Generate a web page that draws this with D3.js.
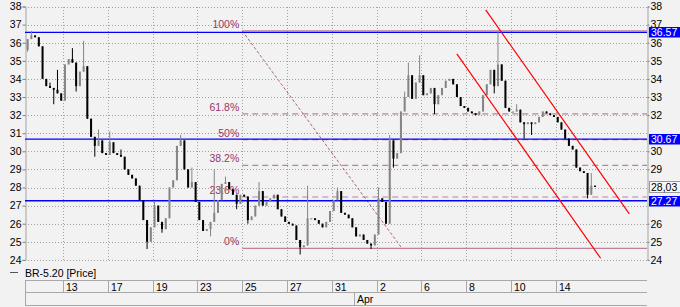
<!DOCTYPE html>
<html>
<head>
<meta charset="utf-8">
<script src="https://cdn.jsdelivr.net/npm/d3@7"></script>
<style>
  html, body { margin: 0; padding: 0; background: #f2f2f2; }
  svg { display: block; font-family: "Liberation Sans", Arial, sans-serif; }
</style>
</head>
<body>
<div id="chart"></div>
<script>
var seriesName = "BR-5.20 [Price]";

var tradingDays = [
  "2020-03-11", "2020-03-12", "2020-03-13", "2020-03-16", "2020-03-17",
  "2020-03-18", "2020-03-19", "2020-03-20", "2020-03-23", "2020-03-24",
  "2020-03-25", "2020-03-26", "2020-03-27", "2020-03-30", "2020-03-31",
  "2020-04-01", "2020-04-02", "2020-04-03", "2020-04-06", "2020-04-07",
  "2020-04-08", "2020-04-09", "2020-04-10", "2020-04-13", "2020-04-14",
  "2020-04-15"
];

var tickDates = [
  "2020-03-13", "2020-03-17", "2020-03-19", "2020-03-23", "2020-03-25",
  "2020-03-27", "2020-03-31", "2020-04-02", "2020-04-06", "2020-04-08",
  "2020-04-10", "2020-04-14"
];

var priceTicks = [24, 25, 26, 27, 28, 29, 30, 31, 32, 33, 34, 35, 36, 37, 38];

// six bars per trading day, the first day starts at its third bar
var barsPerDay = 6;
var firstSlot = 2;
var firstOpen = 35.6;

var closes = [
  36.2, 36.4, 36.3, 35.8,                 // 11 Mar
  34.0, 33.6, 33.5, 33.4, 33.2, 32.8,     // 12
  34.8, 35.1, 34.9, 33.6, 34.4, 34.7,     // 13
  31.8, 30.8, 30.3, 30.6, 29.9, 29.8,     // 16
  30.5, 29.9, 29.8, 29.7, 29.0, 28.7,     // 17
  28.5, 28.1, 27.3, 26.2, 25.0, 25.8,     // 18
  27.0, 26.1, 25.7, 26.3, 28.0, 28.4,     // 19
  30.3, 30.6, 29.0, 28.0, 28.3, 27.2,     // 20
  26.2, 25.6, 25.7, 26.1, 26.6, 27.3,     // 23
  28.2, 28.3, 27.9, 27.6, 27.1, 27.6,     // 24
  27.5, 26.2, 26.4, 27.0, 27.8, 27.0,     // 25
  27.2, 27.4, 27.6, 26.8, 26.4, 26.1,     // 26
  26.0, 25.9, 25.1, 24.7, 24.8, 26.3,     // 27
  26.3, 26.2, 26.0, 25.8, 26.1, 26.7,     // 30
  27.3, 27.8, 26.6, 26.5, 26.3, 25.8,     // 31
  25.3, 25.4, 25.1, 24.9, 24.8, 25.4,     // 1 Apr
  27.4, 27.2, 26.0, 30.6, 29.6, 29.9,     // 2
  32.2, 33.0, 34.2, 32.9, 33.8, 34.2,     // 3
  33.1, 33.2, 33.5, 32.6, 33.1, 33.5,     // 6
  33.9, 34.0, 33.7, 33.0, 32.5, 32.4,     // 7
  32.2, 32.1, 32.0, 32.2, 33.1, 33.7,     // 8
  34.5, 33.6, 34.8, 33.9, 32.4, 32.2,     // 9
  32.2, 32.3, 31.6, 31.5, 31.6, 31.5,     // 10
  31.6, 31.9, 32.2, 32.1, 32.0, 31.9,     // 13
  31.6, 31.2, 30.7, 30.3, 30.1, 29.1,     // 14
  28.9, 28.8, 27.6, 28.1, 28.03           // 15
];

// [bar index, price] for wicks that stick out of the bodies
var barHighs = [
  [1, 36.65], [6, 33.8], [8, 34.5], [12, 35.7], [15, 36.1], [19, 31.2],
  [22, 31.1], [25, 30.1], [34, 27.2], [41, 30.9], [44, 29.1], [50, 29.0],
  [53, 28.6], [62, 28.3], [75, 28.1], [83, 28.0], [94, 28.0], [97, 30.9],
  [101, 33.3], [102, 34.9], [105, 35.3], [126, 36.65], [131, 32.6], [151, 28.8]
];
var barLows = [
  [0, 35.5], [7, 32.6], [13, 33.3], [18, 29.7], [32, 24.6], [36, 25.5],
  [49, 25.3], [56, 26.8], [59, 26.0], [73, 24.3], [92, 24.6], [98, 29.1],
  [109, 32.05], [125, 33.2], [133, 30.7], [135, 30.9], [150, 27.4]
];

var levelLines = [36.57, 30.67, 27.27];
var lastPrice = 28.03;

// fibonacci tool: [trading day position, price]
var fibHigh = [10.0, 36.65];
var fibLow = [17.13, 24.64];
var fibRatios = [0, 0.236, 0.382, 0.5, 0.618, 1];
var fibLabels = ["0%", "23.6%", "38.2%", "50%", "61.8%", "100%"];

// descending channel, two red trend lines
var channelLines = [
  [[20.87, 37.81], [27.28, 26.54]],
  [[19.58, 35.38], [26.0, 24.09]]
];

(function() {
  'use strict';

  var width = 680;
  var height = 307;
  var left = 25;
  var right = 647;
  var top = 6.5;
  var bottom = 259.9;
  var gridColor = "#a3a3a3";
  var fibColor = "#c0809a";
  var fibText = "#9a3566";

  var parse = d3.timeParse("%Y-%m-%d");
  var dayFmt = d3.timeFormat("%-d");
  var monFmt = d3.timeFormat("%b");

  var x = d3.scaleLinear()
    .domain([0.3, 28.07])
    .range([left, right]);

  var y = d3.scaleLinear()
    .domain([24, 38])
    .range([bottom, top]);

  var svg = d3.select("#chart")
    .append("svg:svg")
    .attr("width", width)
    .attr("height", height);

  svg.append("rect")
    .attr("width", width)
    .attr("height", height)
    .attr("fill", "#f2f2f2");

  function dayPos(s) {
    return tradingDays.indexOf(s);
  }

  // grid
  var grid = svg.append("g")
    .attr("stroke", gridColor)
    .attr("stroke-dasharray", "1,2")
    .attr("shape-rendering", "crispEdges");

  grid.selectAll("line.h")
    .data(priceTicks)
    .enter().append("line")
    .attr("class", "h")
    .attr("x1", left)
    .attr("x2", right)
    .attr("y1", function (d) { return Math.round(y(d)) + 0.5; })
    .attr("y2", function (d) { return Math.round(y(d)) + 0.5; });

  grid.selectAll("line.v")
    .data(tickDates)
    .enter().append("line")
    .attr("class", "v")
    .attr("x1", function (d) { return Math.round(x(dayPos(d))) + 0.5; })
    .attr("x2", function (d) { return Math.round(x(dayPos(d))) + 0.5; })
    .attr("y1", top)
    .attr("y2", bottom);

  // the right-hand price tags cover the tick labels next to them
  var tagged = levelLines.concat([lastPrice]);
  var rightTicks = priceTicks.filter(function (p) {
    return tagged.every(function (v) { return Math.abs(y(p) - y(v)) >= 7; });
  });

  // axes
  var leftAxis = svg.append("g")
    .attr("transform", "translate(" + (left + 0.5) + ",0)")
    .call(d3.axisLeft(y).tickValues(priceTicks).tickSize(3).tickPadding(1));

  var rightAxis = svg.append("g")
    .attr("transform", "translate(" + (right + 0.5) + ",0)")
    .call(d3.axisRight(y).tickValues(rightTicks).tickSize(2).tickPadding(1));

  [leftAxis, rightAxis].forEach(function (a) {
    a.select(".domain").attr("stroke", gridColor);
    a.selectAll(".tick line").attr("stroke", "#808080");
    a.selectAll(".tick text")
      .attr("fill", "#000")
      .style("font-size", "10.5px")
      .style("font-family", "'Liberation Sans', Arial, sans-serif");
  });

  // fibonacci retracement
  var fib = svg.append("g");
  var fibRange = fibHigh[1] - fibLow[1];

  fibRatios.forEach(function (r, i) {
    var py = y(fibLow[1] + fibRange * r);
    fib.append("line")
      .attr("x1", x(fibHigh[0]))
      .attr("x2", right)
      .attr("y1", py)
      .attr("y2", py)
      .attr("stroke", fibColor)
      .attr("stroke-width", 1.2)
      .attr("stroke-dasharray", (r === 0 || r === 1) ? null : "6,4");
    fib.append("text")
      .attr("x", x(fibHigh[0]) - 3)
      .attr("y", py - 3)
      .attr("text-anchor", "end")
      .attr("fill", fibText)
      .style("font-size", "10.5px")
      .text(fibLabels[i]);
  });

  fib.append("line")
    .attr("x1", x(fibHigh[0]))
    .attr("y1", y(fibHigh[1]))
    .attr("x2", x(fibLow[0]))
    .attr("y2", y(fibLow[1]))
    .attr("stroke", "#b0607e")
    .attr("stroke-dasharray", "3,2");

  // horizontal levels
  svg.append("g")
    .selectAll("line")
    .data(levelLines)
    .enter().append("line")
    .attr("x1", left)
    .attr("x2", right)
    .attr("y1", function (d) { return y(d); })
    .attr("y2", function (d) { return y(d); })
    .attr("stroke", "#0000ff")
    .attr("stroke-width", 1.4);

  // candles
  var bars = closes.map(function (c, i) {
    var o = i === 0 ? firstOpen : closes[i - 1];
    return {
      t: (firstSlot + i + 0.5) / barsPerDay,
      o: o,
      c: c,
      h: Math.max(o, c),
      l: Math.min(o, c)
    };
  });
  barHighs.forEach(function (p) { bars[p[0]].h = p[1]; });
  barLows.forEach(function (p) { bars[p[0]].l = p[1]; });

  function barColor(d) {
    return d.c >= d.o ? "#858585" : "#000";
  }

  var candles = svg.append("g")
    .selectAll("g")
    .data(bars)
    .enter().append("g");

  candles.append("line")
    .attr("x1", function (d) { return x(d.t); })
    .attr("x2", function (d) { return x(d.t); })
    .attr("y1", function (d) { return y(d.h); })
    .attr("y2", function (d) { return y(d.l); })
    .attr("stroke", barColor)
    .attr("stroke-width", 1);

  candles.append("rect")
    .attr("x", function (d) { return x(d.t) - 1; })
    .attr("width", 2)
    .attr("y", function (d) { return y(Math.max(d.o, d.c)); })
    .attr("height", function (d) { return Math.max(1.2, Math.abs(y(d.o) - y(d.c))); })
    .attr("fill", barColor);

  // channel
  svg.append("g")
    .selectAll("line")
    .data(channelLines)
    .enter().append("line")
    .attr("x1", function (d) { return x(d[0][0]); })
    .attr("y1", function (d) { return y(d[0][1]); })
    .attr("x2", function (d) { return x(d[1][0]); })
    .attr("y2", function (d) { return y(d[1][1]); })
    .attr("stroke", "#ff0000")
    .attr("stroke-width", 1.2);

  // price labels on the right axis
  var fmt = d3.format(".2f");
  var tags = svg.append("g");

  levelLines.forEach(function (v) {
    tags.append("rect")
      .attr("x", right + 2)
      .attr("y", Math.round(y(v)) - 5)
      .attr("width", 32)
      .attr("height", 10.5)
      .attr("fill", "#0000ff");
    tags.append("text")
      .attr("x", right + 4)
      .attr("y", Math.round(y(v)) + 4)
      .attr("fill", "#fff")
      .style("font-size", "10.5px")
      .text(fmt(v));
  });

  tags.append("rect")
    .attr("x", right + 2.5)
    .attr("y", Math.round(y(lastPrice)) - 5.5)
    .attr("width", 31)
    .attr("height", 11)
    .attr("fill", "#f7f7f7")
    .attr("stroke", "#9a9a9a");
  tags.append("text")
    .attr("x", right + 4)
    .attr("y", Math.round(y(lastPrice)) + 4)
    .attr("fill", "#000")
    .style("font-size", "10.5px")
    .text(fmt(lastPrice).replace(".", ","));

  // legend
  svg.append("line")
    .attr("x1", 10).attr("x2", 18)
    .attr("y1", 272.5).attr("y2", 272.5)
    .attr("stroke", "#555");
  svg.append("text")
    .attr("x", left)
    .attr("y", 276.5)
    .attr("fill", "#000")
    .style("font-size", "10.5px")
    .text(seriesName);

  // time axis table
  var tbl = svg.append("g")
    .attr("stroke", "#a8a8a8")
    .attr("shape-rendering", "crispEdges");
  [280.5, 292.5, 305.5].forEach(function (ry) {
    tbl.append("line")
      .attr("x1", left).attr("x2", right)
      .attr("y1", ry).attr("y2", ry);
  });
  tbl.append("line")
    .attr("x1", left + 0.5).attr("x2", left + 0.5)
    .attr("y1", 280.5).attr("y2", 305.5);

  tickDates.forEach(function (d) {
    var tx = Math.round(x(dayPos(d))) + 0.5;
    tbl.append("line")
      .attr("x1", tx).attr("x2", tx)
      .attr("y1", 280.5).attr("y2", 292.5);
    svg.append("text")
      .attr("x", tx + 2.5)
      .attr("y", 290.5)
      .attr("fill", "#000")
      .style("font-size", "10.5px")
      .text(dayFmt(parse(d)));
  });

  tradingDays.forEach(function (d, i) {
    if (i === 0) { return; }
    var cur = parse(d);
    var prev = parse(tradingDays[i - 1]);
    if (cur.getMonth() === prev.getMonth()) { return; }
    var mx = Math.round(x(i)) + 0.5;
    tbl.append("line")
      .attr("x1", mx).attr("x2", mx)
      .attr("y1", 292.5).attr("y2", 305.5);
    svg.append("text")
      .attr("x", mx + 2.5)
      .attr("y", 302.5)
      .attr("fill", "#000")
      .style("font-size", "10.5px")
      .text(monFmt(cur));
  });
})();
</script>
</body>
</html>
